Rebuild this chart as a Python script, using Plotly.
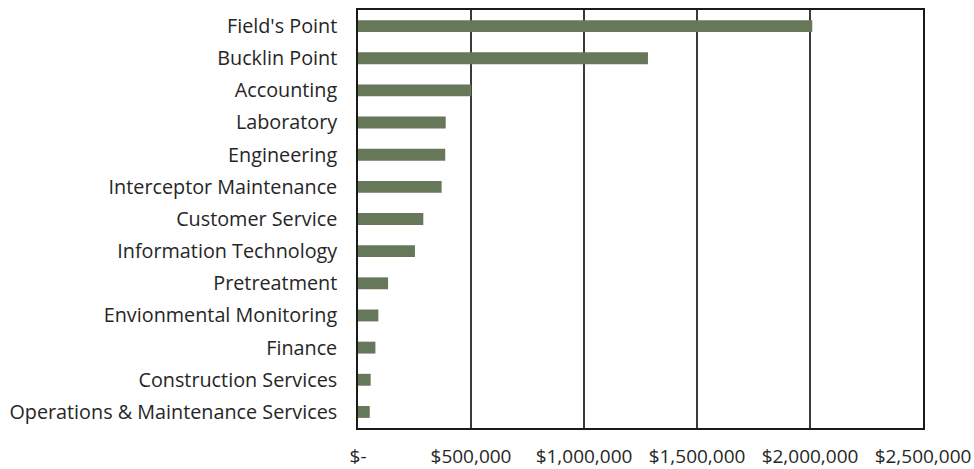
import plotly.graph_objects as go

categories = ["Field's Point", "Bucklin Point", "Accounting", "Laboratory", "Engineering",
              "Interceptor Maintenance", "Customer Service", "Information Technology",
              "Pretreatment", "Envionmental Monitoring", "Finance", "Construction Services",
              "Operations & Maintenance Services"]
values = [2010000, 1283000, 501000, 388000, 386000, 370000, 289000, 252000,
          133000, 90000, 77000, 56000, 52000]
tick_values = [0, 500000, 1000000, 1500000, 2000000, 2500000]
tick_labels = ["$-", "$500,000", "$1,000,000", "$1,500,000", "$2,000,000", "$2,500,000"]

FONT = "Open Sans"
FS = 19.8
TXT = "#262626"

fig = go.Figure(go.Bar(
    y=categories, x=values, orientation="h",
    marker=dict(color="#66775a", line=dict(width=0)),
))

fig.update_layout(
    width=974, height=469,
    margin=dict(l=358, r=51, t=10, b=41),
    paper_bgcolor="white", plot_bgcolor="white",
    bargap=0.63, showlegend=False,
    font=dict(family=FONT, size=FS, color=TXT),
)
fig.update_xaxes(range=[0, 2500000], tickvals=tick_values, ticktext=tick_labels,
                 ticks="outside", ticklen=10, tickcolor="rgba(0,0,0,0)",
                 tickfont=dict(family=FONT, size=19, color=TXT), automargin=False,
                 showgrid=True, gridcolor="#3a3a3a", gridwidth=1.6,
                 zeroline=False, showline=True, linecolor="#1a1a1a", linewidth=1.6,
                 mirror=True, fixedrange=True)
fig.update_yaxes(autorange="reversed", showgrid=False, zeroline=False, automargin=False,
                 showline=True, linecolor="#1a1a1a", linewidth=1.6, mirror=True,
                 ticks="outside", ticklen=15, tickcolor="rgba(0,0,0,0)",
                 tickfont=dict(family=FONT, size=FS, color=TXT))

fig.write_html("out.html")
